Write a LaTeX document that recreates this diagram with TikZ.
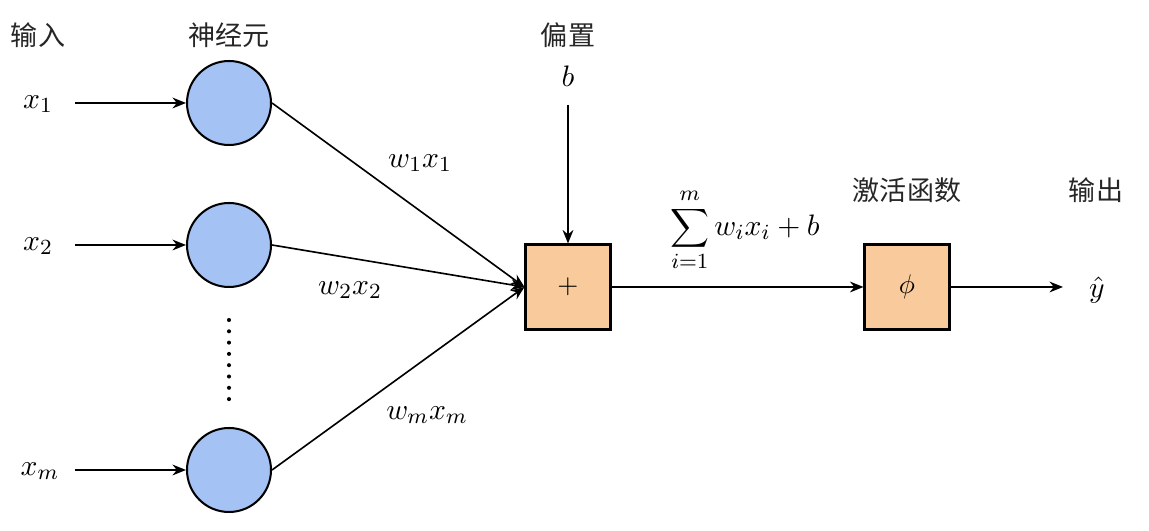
\documentclass[tikz,border=0pt]{standalone}
\usepackage{fontspec}
\newfontfamily\cjk{Noto Sans CJK SC}
\usetikzlibrary{arrows.meta}
\definecolor{neuronblue}{HTML}{A4C2F4}
\definecolor{boxorange}{HTML}{F9CB9C}
\begin{document}
\begin{tikzpicture}[x=0.37pt,y=-0.37pt,
  neuron/.style={circle,draw=black,line width=0.75pt,fill=neuronblue,minimum size=84*0.37pt,inner sep=0pt},
  opbox/.style={rectangle,draw=black,line width=0.75pt,fill=boxorange,minimum size=85*0.37pt,inner sep=0pt},
  lab/.style={font=\cjk\fontsize{10}{12}\selectfont,text=black!85},
  mlab/.style={font=\fontsize{11}{13}\selectfont},
  arr/.style={-{Stealth[length=5pt,width=4pt]},line width=0.6pt}]
\useasboundingbox (0,0) rectangle (1149,531);
% headers
\node[lab] (hin) at (38,35) {输入};
\node[lab] (hneu) at (229,35) {神经元};
\node[lab] (hbias) at (568,35) {偏置};
\node[lab] (hact) at (907,190) {激活函数};
\node[lab] (hout) at (1096,190) {输出};
% inputs
\node[mlab] (x1) at (38,104) {$x_1$};
\node[mlab] (x2) at (38,246) {$x_2$};
\node[mlab] (xm) at (40,471) {$x_m$};
\coordinate (s1) at (75,103);
\coordinate (s2) at (75,245);
\coordinate (sm) at (75,470);
% neurons
\node[neuron] (n1) at (229,103) {};
\node[neuron] (n2) at (229,245) {};
\node[neuron] (nm) at (229,470) {};
\draw[arr] (s1) -- (n1);
\draw[arr] (s2) -- (n2);
\draw[arr] (sm) -- (nm);
% dots
\foreach \i in {0,...,7} {\fill (229,{320+\i*11.3}) circle (0.75pt);}
% sum box
\node[opbox] (sum) at (568,287) {$+$};
\node[mlab] (b) at (568,76) {$b$};
\coordinate (bs) at (568,105);
\draw[arr] (bs) -- (sum.north);
\draw[arr] (n1.east) -- (sum.west);
\draw[arr] (n2.east) -- (sum.west);
\draw[arr] (nm.east) -- (sum.west);
\node[mlab] (w1) at (420,163) {$w_1x_1$};
\node[mlab] (w2) at (350,290) {$w_2x_2$};
\node[mlab] (wm) at (427,415) {$w_mx_m$};
% activation
\node[opbox] (act) at (907,287) {$\phi$};
\draw[arr] (sum.east) -- (act.west);
\node[mlab] (sumlab) at (745,230) {$\displaystyle\sum_{i=1}^{m} w_ix_i+b$};
% output
\coordinate (oe) at (1063,287);
\draw[arr] (act.east) -- (oe);
\node[mlab] (y) at (1097,290) {$\hat{y}$};
\end{tikzpicture}
\end{document}
